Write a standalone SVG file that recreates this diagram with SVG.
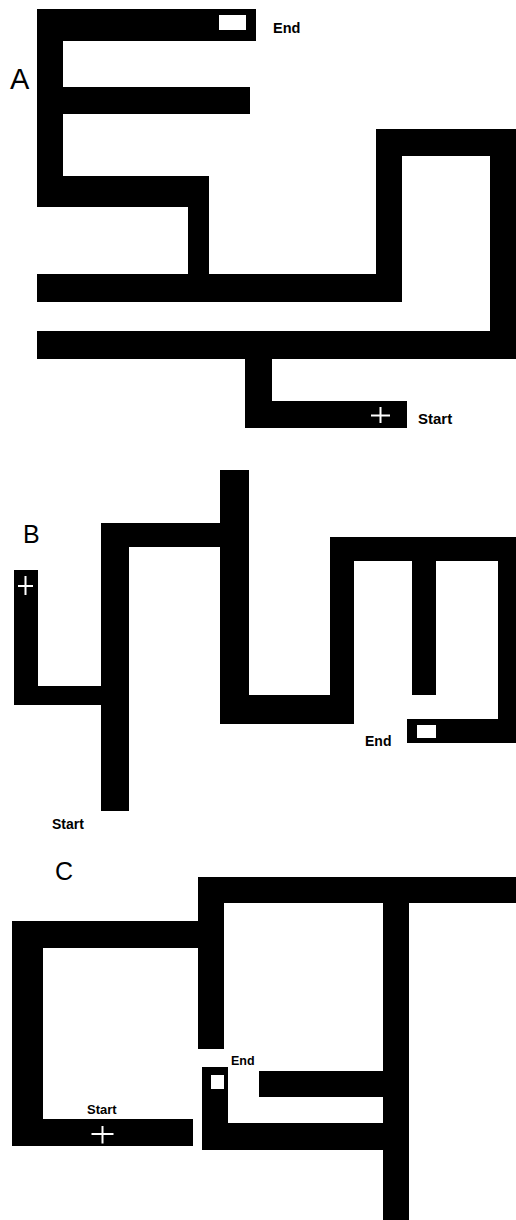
<svg xmlns="http://www.w3.org/2000/svg" width="516" height="1220" viewBox="0 0 516 1220">
<style>
.w{fill:#000}
.hole{fill:#fff}
.cross{stroke:#fff;stroke-width:2;fill:none}
.lbl{font-family:"Liberation Sans",Arial,sans-serif;font-weight:bold;fill:#000}
.big{font-family:"Liberation Sans",Arial,sans-serif;fill:#000}
</style>
<rect width="516" height="1220" fill="#fff"/>
<g id="mazeA">
<text class="big" x="10" y="89" font-size="29">A</text>
<rect class="w" x="37" y="9" width="219" height="32"/>
<rect class="w" x="37" y="9" width="26" height="198"/>
<rect class="w" x="37" y="87" width="213" height="27"/>
<rect class="w" x="37" y="176" width="172" height="31"/>
<rect class="w" x="188" y="176" width="21" height="112"/>
<rect class="w" x="37" y="274" width="365" height="28"/>
<rect class="w" x="376" y="129" width="26" height="173"/>
<rect class="w" x="376" y="129" width="140" height="27"/>
<rect class="w" x="490" y="129" width="26" height="230"/>
<rect class="w" x="37" y="331" width="479" height="28"/>
<rect class="w" x="245" y="345" width="27" height="83"/>
<rect class="w" x="245" y="401" width="162" height="27"/>
<rect class="hole" x="219" y="15" width="27" height="15"/>
<path class="cross" d="M371 415.5H390M380.5 407V423"/>
<text class="lbl" x="273" y="33" font-size="14.5">End</text>
<text class="lbl" x="418" y="424" font-size="15">Start</text>
</g>
<g id="mazeB">
<text class="big" x="23" y="543" font-size="25">B</text>
<rect class="w" x="14" y="570" width="24" height="135"/>
<rect class="w" x="14" y="686" width="90" height="19"/>
<rect class="w" x="101" y="523" width="28" height="288"/>
<rect class="w" x="101" y="523" width="148" height="24"/>
<rect class="w" x="220" y="470" width="29" height="254"/>
<rect class="w" x="220" y="695" width="134" height="29"/>
<rect class="w" x="330" y="537" width="24" height="187"/>
<rect class="w" x="330" y="537" width="186" height="24"/>
<rect class="w" x="412" y="537" width="24" height="158"/>
<rect class="w" x="498" y="537" width="18" height="206"/>
<rect class="w" x="407" y="719" width="109" height="24"/>
<rect class="hole" x="417" y="725" width="19" height="13"/>
<path class="cross" d="M18 586H33M25.5 576V595"/>
<text class="lbl" x="365" y="746" font-size="14">End</text>
<text class="lbl" x="52" y="829" font-size="14">Start</text>
</g>
<g id="mazeC">
<text class="big" x="55" y="880" font-size="25">C</text>
<rect class="w" x="12" y="921" width="190" height="27"/>
<rect class="w" x="12" y="921" width="31" height="225"/>
<rect class="w" x="12" y="1119" width="181" height="27"/>
<rect class="w" x="198" y="877" width="26" height="172"/>
<rect class="w" x="198" y="877" width="318" height="26"/>
<rect class="w" x="383" y="877" width="26" height="343"/>
<rect class="w" x="259" y="1071" width="128" height="26"/>
<rect class="w" x="202" y="1123" width="185" height="27"/>
<rect class="w" x="202" y="1067" width="26" height="83"/>
<rect class="hole" x="211" y="1075" width="13" height="14"/>
<path class="cross" d="M91.5 1134H113.5M102.5 1126V1143.5"/>
<text class="lbl" x="231" y="1065" font-size="12.5">End</text>
<text class="lbl" x="87" y="1114" font-size="13">Start</text>
</g>
<g id="connectors"></g>
</svg>
